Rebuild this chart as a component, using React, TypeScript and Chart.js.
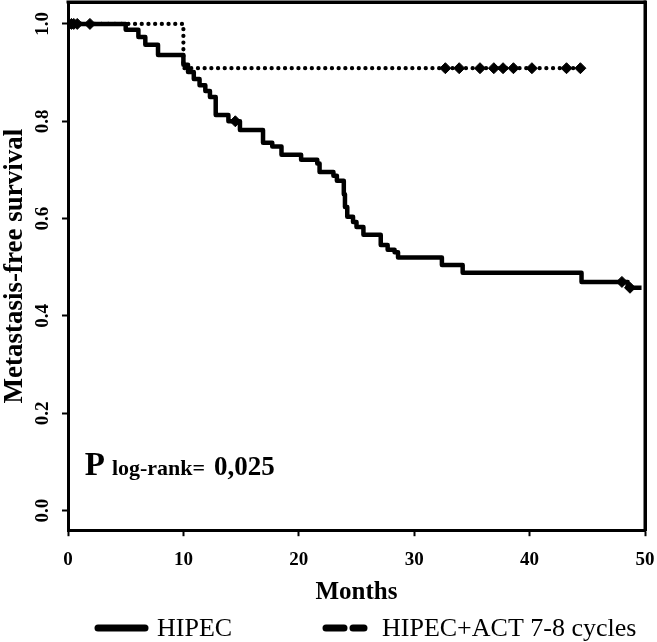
import React, { useEffect, useRef } from "react";
import { Chart, registerables } from "chart.js";

Chart.register(...registerables);

// ---- data ----
const hipecTimes = [0, 5.0, 6.1, 6.7, 7.8, 10.0, 10.4, 10.9, 11.4, 11.9, 12.3, 12.8, 13.9, 14.9, 16.9, 17.7, 18.5, 20.2, 21.6, 21.8, 23.0, 23.3, 23.9, 24.0, 24.2, 24.7, 25.0, 25.6, 27.1, 27.7, 28.3, 28.6, 32.4, 34.2, 44.5, 48.5, 49.7];
const hipecSurv = [1.0, 0.988, 0.973, 0.957, 0.936, 0.916, 0.901, 0.887, 0.874, 0.862, 0.85, 0.813, 0.8, 0.782, 0.756, 0.748, 0.731, 0.721, 0.713, 0.696, 0.688, 0.678, 0.65, 0.624, 0.604, 0.593, 0.583, 0.567, 0.546, 0.536, 0.531, 0.52, 0.505, 0.489, 0.47, 0.458, 0.458];
const actTimes = [0, 10.0, 44.4];
const actSurv = [1.0, 0.909, 0.909];
const hipecCensorTimes = [0.3, 0.8, 1.9, 14.5, 48.0, 48.7];
const actCensorTimes = [0.5, 32.7, 33.9, 35.7, 36.9, 37.7, 38.6, 40.2, 43.2, 44.4];
const xTicks = [0, 10, 20, 30, 40, 50];
const yTicks = [0, 0.2, 0.4, 0.6, 0.8, 1.0];
const seriesLabels = ["HIPEC", "HIPEC+ACT 7-8 cycles"];
const xTitle = "Months";
const yTitle = "Metastasis-free survival";
const pText = ["P", "log-rank=", "0,025"];

const SERIF = '"Liberation Serif", "Times New Roman", serif';

function stepValue(times: number[], surv: number[], t: number) {
  let v = surv[0];
  for (let i = 0; i < times.length; i++) if (times[i] <= t) v = surv[i];
  return v;
}

const overlay = {
  id: "overlay",
  afterDraw(chart: any) {
    const { ctx, chartArea: a, scales } = chart;
    ctx.save();
    ctx.setLineDash([]);
    ctx.fillStyle = "#000";
    // top and right sides of the frame
    const w = 3;
    ctx.fillRect(a.left - w / 2, a.top - w / 2, a.right - a.left + w, w);
    ctx.fillRect(a.right - w / 2, a.top - w / 2, w, a.bottom - a.top + w);
    // p-value annotation
    const px = scales.x.getPixelForValue(1.45);
    const py = scales.y.getPixelForValue(0.074);
    ctx.textBaseline = "alphabetic";
    ctx.textAlign = "left";
    ctx.font = `bold 33px ${SERIF}`;
    ctx.fillText(pText[0], px, py);
    let cx = px + ctx.measureText(pText[0]).width + 7;
    ctx.font = `bold 22px ${SERIF}`;
    ctx.fillText(pText[1], cx, py);
    cx += ctx.measureText(pText[1]).width + 9;
    ctx.font = `bold 27px ${SERIF}`;
    ctx.fillText(pText[2], cx, py);
    // legend
    const ly = chart.height - 14;
    ctx.strokeStyle = "#000";
    ctx.lineWidth = 7;
    ctx.lineCap = "round";
    ctx.beginPath();
    ctx.moveTo(98, ly);
    ctx.lineTo(145, ly);
    ctx.stroke();
    ctx.beginPath();
    ctx.moveTo(326, ly);
    ctx.lineTo(344, ly);
    ctx.moveTo(353, ly);
    ctx.lineTo(364, ly);
    ctx.stroke();
    ctx.font = `26px ${SERIF}`;
    ctx.textBaseline = "middle";
    ctx.fillText(seriesLabels[0], 157, ly + 1);
    ctx.fillText(seriesLabels[1], 382, ly + 1);
    ctx.restore();
  },
};

const frameAxis = (position: string) => ({
  type: "linear",
  position,
  display: true,
  ticks: { display: false },
  grid: { display: false, drawTicks: false },
  border: { display: true, width: 3, color: "#000" },
});

export default function App() {
  const ref = useRef<HTMLCanvasElement | null>(null);
  useEffect(() => {
    document.body.style.margin = "0";
    const canvas = ref.current;
    if (!canvas) return;
    const hipecData = hipecTimes.map((t, i) => ({ x: t, y: hipecSurv[i] }));
    const actData = actTimes.map((t, i) => ({ x: t, y: actSurv[i] }));
    const hipecCens = hipecCensorTimes.map((t) => ({ x: t, y: stepValue(hipecTimes, hipecSurv, t) }));
    const actCens = actCensorTimes.map((t) => ({ x: t, y: stepValue(actTimes, actSurv, t) }));
    const chart = new Chart(canvas, {
      type: "line",
      data: {
        datasets: [
          {
            label: seriesLabels[1],
            data: actData,
            stepped: true,
            borderColor: "#000",
            borderWidth: 4.2,
            borderDash: [0.1, 6.6],
            borderCapStyle: "round",
            pointRadius: 0,
            fill: false,
          },
          {
            label: seriesLabels[0],
            data: hipecData,
            stepped: true,
            borderColor: "#000",
            borderWidth: 4.5,
            borderJoinStyle: "round",
            pointRadius: 0,
            fill: false,
          },
          {
            label: "censor HIPEC",
            data: hipecCens,
            showLine: false,
            pointStyle: "rectRot",
            pointRadius: 5.5,
            borderWidth: 1,
            borderColor: "#000",
            backgroundColor: "#000",
          },
          {
            label: "censor ACT",
            data: actCens,
            showLine: false,
            pointStyle: "rectRot",
            pointRadius: 5.5,
            borderWidth: 1,
            borderColor: "#000",
            backgroundColor: "#000",
          },
        ],
      },
      options: {
        animation: false,
        responsive: false,
        events: [],
        layout: { autoPadding: false, padding: { left: 2, right: 0, top: 2, bottom: 37 } },
        plugins: { legend: { display: false }, tooltip: { enabled: false } },
        scales: {
          x: {
            type: "linear",
            min: 0,
            max: 50,
            afterBuildTicks: (axis: any) => {
              axis.ticks = xTicks.map((v) => ({ value: v }));
            },
            afterFit: (axis: any) => {
              axis.paddingRight = 12;
            },
            border: { display: true, width: 3, color: "#000" },
            grid: { display: true, drawOnChartArea: false, drawTicks: true, tickLength: 6, tickWidth: 2, tickColor: "#000" },
            ticks: { color: "#000", padding: 12, font: { family: SERIF, size: 19, weight: "bold" } },
            title: {
              display: true,
              text: xTitle,
              color: "#000",
              padding: { top: -3, bottom: 0 },
              font: { family: SERIF, size: 25, weight: "bold", lineHeight: 1.0 },
            },
          },
          y: {
            type: "linear",
            min: -0.04,
            max: 1.045,
            afterBuildTicks: (axis: any) => {
              axis.ticks = yTicks.map((v) => ({ value: v }));
            },
            afterFit: (axis: any) => {
              axis.paddingTop = 0;
              axis.paddingBottom = 0;
              axis.width = 66;
            },
            border: { display: true, width: 3, color: "#000" },
            grid: { display: true, drawOnChartArea: false, drawTicks: true, tickLength: 6, tickWidth: 2, tickColor: "#000" },
            ticks: {
              color: "#000",
              padding: 7,
              minRotation: 90,
              maxRotation: 90,
              crossAlign: "center",
              callback: (v: any) => Number(v).toFixed(1),
              font: { family: SERIF, size: 19, weight: "bold" },
            },
            title: {
              display: true,
              text: yTitle,
              color: "#000",
              padding: { top: 0, bottom: 0 },
              font: { family: SERIF, size: 27, weight: "bold", lineHeight: 1.0 },
            },
          },
          xTop: { ...frameAxis("top"), min: 0, max: 50 },
          yRight: { ...frameAxis("right"), min: -0.04, max: 1.045 },
        },
      },
      plugins: [overlay],
    } as any);
    return () => chart.destroy();
  }, []);
  return (
    <div style={{ width: 657, height: 642 }}>
      <canvas ref={ref} width={657} height={642} style={{ display: "block" }} />
    </div>
  );
}
